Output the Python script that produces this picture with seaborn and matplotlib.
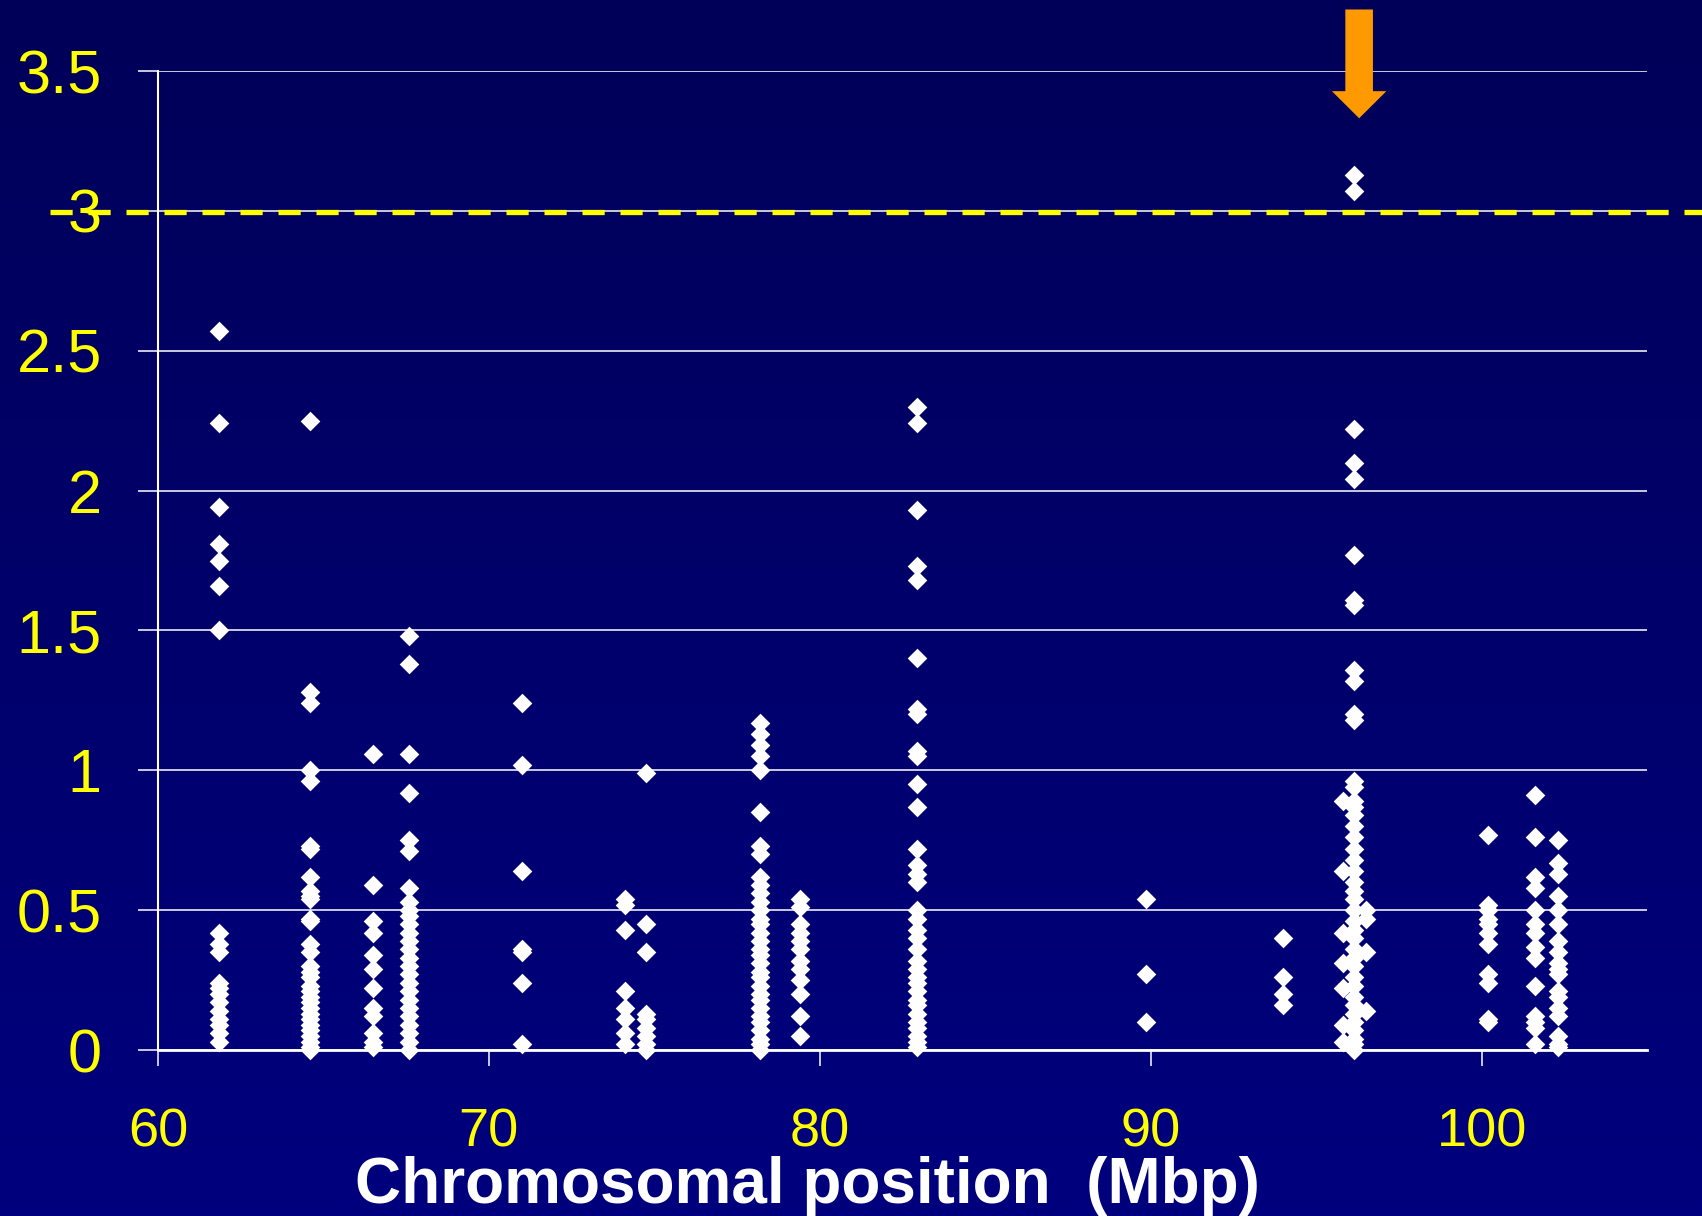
import numpy as np
import pandas as pd
import seaborn as sns
import matplotlib.pyplot as plt
from matplotlib.colors import LinearSegmentedColormap
from matplotlib.patches import FancyArrow

# marker clusters: position (Mbp) and LOD score values
pos_61_9 = 61.85
lod_61_9 = [2.57, 2.24, 1.94, 1.81, 1.75, 1.66, 1.50, 0.42, 0.38, 0.35, 0.24, 0.22,
            0.20, 0.17, 0.14, 0.11, 0.09, 0.06, 0.03]
pos_64_6 = 64.6
lod_64_6 = [2.25, 1.28, 1.24, 1.00, 0.96, 0.73, 0.72, 0.62, 0.57, 0.55, 0.54, 0.47,
            0.46, 0.38, 0.35, 0.30, 0.28, 0.26, 0.23, 0.21, 0.19, 0.17, 0.15, 0.13,
            0.11, 0.09, 0.07, 0.05, 0.03, 0.01, 0.00]
pos_66_5 = 66.5
lod_66_5 = [1.06, 0.59, 0.46, 0.42, 0.34, 0.29, 0.22, 0.15, 0.12, 0.06, 0.03, 0.01]
pos_67_6 = 67.6
lod_67_6 = [1.48, 1.38, 1.06, 0.92, 0.75, 0.71, 0.58, 0.53, 0.50, 0.48, 0.45, 0.42,
            0.39, 0.36, 0.33, 0.30, 0.27, 0.24, 0.21, 0.18, 0.15, 0.12, 0.09, 0.06,
            0.03, 0.00]
pos_71_0 = 71.0
lod_71_0 = [1.24, 1.02, 0.64, 0.36, 0.35, 0.24, 0.02]
pos_74_1 = 74.1
lod_74_1 = [0.54, 0.52, 0.43, 0.21, 0.15, 0.11, 0.06, 0.02]
pos_74_7 = 74.75
lod_74_7 = [0.99, 0.45, 0.35, 0.13, 0.11, 0.08, 0.05, 0.02, 0.00]
pos_78_2 = 78.2
lod_78_2 = [1.17, 1.13, 1.09, 1.05, 1.00, 0.85, 0.73, 0.70, 0.62, 0.59, 0.56, 0.53,
            0.50, 0.47, 0.45, 0.42, 0.39, 0.36, 0.34, 0.31, 0.28, 0.26, 0.23, 0.20,
            0.18, 0.15, 0.12, 0.10, 0.07, 0.04, 0.02, 0.00]
pos_79_4 = 79.4
lod_79_4 = [0.54, 0.51, 0.45, 0.42, 0.39, 0.36, 0.32, 0.29, 0.25, 0.20, 0.12, 0.05]
pos_82_9 = 82.95
lod_82_9 = [2.30, 2.24, 1.93, 1.73, 1.68, 1.40, 1.22, 1.20, 1.07, 1.05, 0.95, 0.87,
            0.72, 0.66, 0.63, 0.60, 0.50, 0.47, 0.43, 0.40, 0.36, 0.32, 0.29, 0.26,
            0.24, 0.21, 0.18, 0.16, 0.13, 0.10, 0.08, 0.05, 0.03, 0.01]
pos_89_8 = 89.85
lod_89_8 = [0.54, 0.27, 0.10]
pos_94_0 = 94.0
lod_94_0 = [0.40, 0.26, 0.20, 0.16]
pos_96_2 = 96.15
lod_96_2 = [3.13, 3.07, 2.22, 2.10, 2.04, 1.77, 1.61, 1.59, 1.36, 1.32, 1.20, 1.18,
            0.96, 0.94, 0.89, 0.87, 0.84, 0.80, 0.76, 0.72, 0.68, 0.64, 0.60, 0.57,
            0.54, 0.50, 0.46, 0.43, 0.40, 0.36, 0.33, 0.30, 0.26, 0.23, 0.19, 0.16,
            0.13, 0.10, 0.07, 0.04, 0.02, 0.00]
pos_95_8 = 95.8
lod_95_8 = [0.89, 0.64, 0.42, 0.31, 0.22, 0.09, 0.03]
pos_96_5 = 96.5
lod_96_5 = [0.50, 0.47, 0.35, 0.14]
pos_100_2 = 100.2
lod_100_2 = [0.77, 0.52, 0.50, 0.47, 0.45, 0.42, 0.38, 0.27, 0.24, 0.11, 0.10]
pos_101_6 = 101.6
lod_101_6 = [0.91, 0.76, 0.62, 0.58, 0.50, 0.45, 0.42, 0.37, 0.33, 0.23, 0.12, 0.10,
             0.08, 0.02]
pos_102_3 = 102.3
lod_102_3 = [0.75, 0.67, 0.63, 0.55, 0.50, 0.45, 0.39, 0.35, 0.31, 0.29, 0.27, 0.21,
             0.19, 0.15, 0.12, 0.05, 0.02, 0.01]

clusters = [
    (pos_61_9, lod_61_9), (pos_64_6, lod_64_6), (pos_66_5, lod_66_5),
    (pos_67_6, lod_67_6), (pos_71_0, lod_71_0), (pos_74_1, lod_74_1),
    (pos_74_7, lod_74_7), (pos_78_2, lod_78_2), (pos_79_4, lod_79_4),
    (pos_82_9, lod_82_9), (pos_89_8, lod_89_8), (pos_94_0, lod_94_0),
    (pos_96_2, lod_96_2), (pos_95_8, lod_95_8), (pos_96_5, lod_96_5),
    (pos_100_2, lod_100_2), (pos_101_6, lod_101_6), (pos_102_3, lod_102_3),
]

x_ticks = [60, 70, 80, 90, 100]
y_ticks = [0, 0.5, 1, 1.5, 2, 2.5, 3, 3.5]
y_tick_labels = ["0", "0.5", "1", "1.5", "2", "2.5", "3", "3.5"]
threshold = 2.995
peak_pos = 96.3

YELLOW = "#FFFF00"
ORANGE = "#FF9900"


def build_frame():
    rows = []
    for pos, vals in clusters:
        for v in vals:
            rows.append({"pos": pos, "lod": v})
    return pd.DataFrame(rows)


def main():
    sns.set_style("dark")
    plt.rcParams["font.family"] = ["Liberation Sans", "DejaVu Sans"]

    fig = plt.figure(figsize=(17.02, 12.16), dpi=100)

    # dark blue gradient background
    bg = fig.add_axes([0, 0, 1, 1], zorder=0)
    grad = np.linspace(0, 1, 256).reshape(-1, 1)
    cmap = LinearSegmentedColormap.from_list("slide", ["#000058", "#00007E"])
    bg.imshow(grad, aspect="auto", cmap=cmap, extent=[0, 1, 0, 1], origin="upper")
    bg.axis("off")

    ax = fig.add_axes([0.0928, 0.1365, 0.8749, 0.8051], zorder=1)
    ax.patch.set_alpha(0)

    df = build_frame()
    sns.scatterplot(data=df, x="pos", y="lod", ax=ax, marker="D", s=100,
                    color="white", linewidth=0, clip_on=False, zorder=5)

    ax.set_xlim(60, 105)
    ax.set_ylim(0, 3.5)
    ax.set_xticks(x_ticks)
    ax.set_xticklabels([str(t) for t in x_ticks])
    ax.set_yticks(y_ticks)
    ax.set_yticklabels(y_tick_labels)
    ax.set_xlabel("")
    ax.set_ylabel("")

    ax.grid(False)
    ax.yaxis.grid(True, color="white", linewidth=1.1)
    for side in ["top", "right"]:
        ax.spines[side].set_visible(False)
    ax.spines["left"].set_color("white")
    ax.spines["left"].set_linewidth(1.5)
    ax.spines["bottom"].set_color("white")
    ax.spines["bottom"].set_linewidth(2.0)

    ax.tick_params(axis="y", direction="out", length=14.4, width=1.1, color="white",
                   labelcolor=YELLOW, labelsize=44, pad=26, left=True)
    ax.tick_params(axis="x", direction="out", length=11.5, width=1.1, color="white",
                   labelcolor=YELLOW, labelsize=39, pad=30, bottom=True)

    # threshold line running past the axes on both sides
    ax.axhline(threshold, xmin=-0.0725, xmax=1.037, color=YELLOW, linewidth=3.8,
               dashes=(4.2, 3.0), clip_on=False, zorder=4)

    # orange arrow pointing at the peak
    arrow = FancyArrow(peak_pos, 3.72, 0, -0.389, width=0.834, head_width=1.647,
                       head_length=0.097, length_includes_head=True,
                       color=ORANGE, linewidth=0, clip_on=False, zorder=6)
    ax.add_patch(arrow)

    fig.text(807 / 1702, 1 - 1203 / 1216, "Chromosomal position  (Mbp)",
             color="white", fontsize=46, fontweight="bold", ha="center",
             va="baseline")

    fig.savefig("out.png", dpi=100)


if __name__ == "__main__":
    main()
